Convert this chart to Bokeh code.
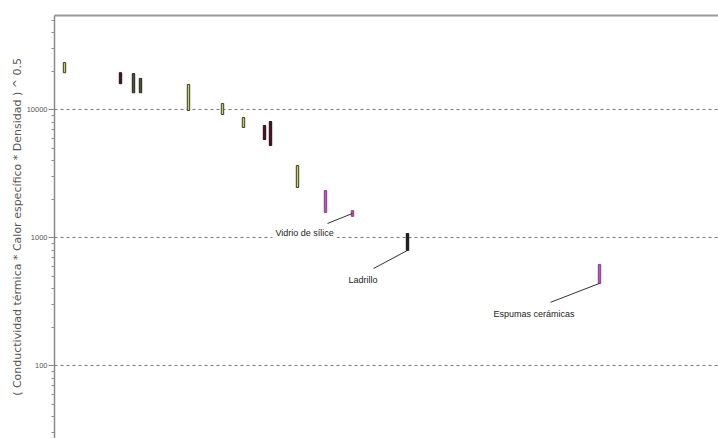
from bokeh.plotting import figure
from bokeh.models import (ColumnDataSource, LinearAxis, Label, LogTicker, Range1d,
                          FixedTicker, NumeralTickFormatter)
from bokeh.embed import file_html
from bokeh.resources import INLINE

# Data (x in arbitrary horizontal units, y = (k * cp * rho)^0.5)
material_x = [10, 66, 79, 86, 134, 168, 189, 210, 216, 243, 271, 298, 353, 545]
effusivity_low = [19500, 16000, 13600, 13600, 9880, 9190, 7280, 5860, 5260, 2470, 1580, 1470, 797, 440]
effusivity_high = [23400, 19500, 19200, 17600, 15800, 11200, 8710, 7540, 8110, 3670, 2340, 1630, 1080, 618]
groups = ["amarillo", "granate", "oliva", "oliva", "amarillo", "amarillo", "amarillo",
          "granate", "granate", "amarillo", "magenta", "magenta", "negro", "magenta"]
y_ticks = [100, 1000, 10000]
annotations = ["Vidrio de sílice", "Ladrillo", "Espumas cerámicas"]

fill_map = {"amarillo": "#c8cb70", "granate": "#4a1426", "oliva": "#4e5535",
            "magenta": "#b058b8", "negro": "#1e1e1e"}
line_map = {"amarillo": "#3e3f1c", "granate": "#2a0a14", "oliva": "#22261a",
            "magenta": "#8a3a92", "negro": "#111111"}

src = ColumnDataSource(dict(
    x=material_x, low=effusivity_low, high=effusivity_high,
    fill=[fill_map[g] for g in groups], line=[line_map[g] for g in groups],
))

p = figure(width=718, height=438, y_axis_type="log", output_backend="svg",
           toolbar_location=None, x_axis_location=None,
           x_range=Range1d(0, 664), y_range=Range1d(27, 54600),
           min_border_left=54, min_border_top=15, min_border_right=0, min_border_bottom=0)
p.outline_line_color = None
p.background_fill_color = "white"
p.border_fill_color = "white"

# grid
p.xgrid.visible = False
p.ygrid.grid_line_color = "#7a7a7a"
p.ygrid.grid_line_dash = "3 3"
p.ygrid.grid_line_width = 1

# left axis
ya = p.yaxis[0]
ya.ticker = LogTicker(num_minor_ticks=10)
ya.formatter = NumeralTickFormatter(format="0")
ya.axis_label = "( Conductividad térmica * Calor específico * Densidad ) ^ 0.5"
ya.axis_label_text_font = "DejaVu Sans"
ya.axis_label_text_font_size = "11px"
ya.axis_label_text_font_style = "normal"
ya.axis_label_text_color = "#555555"
ya.axis_label_standoff = 0
ya.major_label_text_font = "Liberation Sans"
ya.major_label_text_font_size = "7.5px"
ya.major_label_text_color = "#555555"
ya.major_label_standoff = 1
ya.axis_line_color = "#8a8a8a"
ya.axis_line_width = 1.5
ya.major_tick_line_color = "#8a8a8a"
ya.minor_tick_line_color = "#8a8a8a"
ya.major_tick_in = 0
ya.major_tick_out = 6
ya.minor_tick_in = 0
ya.minor_tick_out = 3

# top border as an empty axis (no ticks, no labels)
top = LinearAxis(ticker=FixedTicker(ticks=[]), major_tick_in=0, major_tick_out=0,
                 minor_tick_in=0, minor_tick_out=0, axis_line_color="#9a9a9a",
                 axis_line_width=2, major_label_standoff=0)
p.add_layout(top, "above")

p.vbar(x="x", width=2.4, bottom="low", top="high", source=src,
       fill_color="fill", line_color="line", line_width=1)

# annotation leader lines
p.segment(x0=[273, 319, 496], y0=[1294, 575, 313], x1=[298, 353, 545], y1=[1549, 797, 440],
          line_color="#333333", line_width=1)

label_pos = [(218, 1099), (291, 472), (436, 256)]
for txt, (lx, ly) in zip(annotations, label_pos):
    p.add_layout(Label(x=lx, y=ly, text=txt, text_font="Liberation Sans",
                       text_font_size="9px", text_color="#222222",
                       text_baseline="middle", background_fill_color="white",
                       padding=3))

open("out.html", "w").write(file_html(p, INLINE))
